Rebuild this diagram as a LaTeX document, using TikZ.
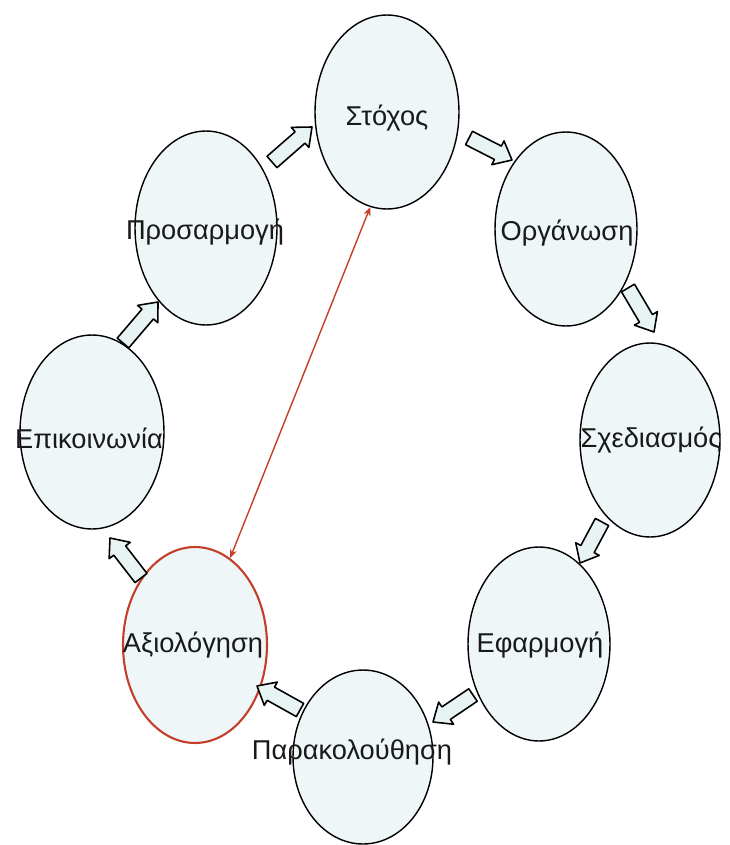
\documentclass[tikz,border=0pt]{standalone}
\usepackage{fontspec}
\setmainfont{Liberation Sans}
\usetikzlibrary{calc,arrows.meta,shapes.geometric}
\definecolor{ellfill}{RGB}{238,246,247}
\definecolor{arrfill}{RGB}{232,244,244}
\definecolor{redc}{RGB}{196,62,42}
\tikzset{
  ell/.style={draw=black, line width=0.8pt, fill=ellfill, ellipse, inner sep=0pt},
  lbl/.style={font=\fontsize{15.5}{18}\selectfont, text=black!90, inner sep=0pt},
  barr/.style={draw=black, line width=0.9pt, fill=arrfill, line join=round},
  redline/.style={draw=redc, line width=0.8pt, {Stealth[length=5pt,width=4pt]}-{Stealth[length=5pt,width=4pt]}}
}
% block arrow from coordinate #1 (tail) to coordinate #2 (tip)
\newcommand{\blockarr}[2]{%
  \draw[barr] let \p1=($(#2)-(#1)$), \n1={atan2(\y1,\x1)}, \n2={veclen(\x1,\y1)} in
    ($(#1)+(\n1+90:4.3pt)$)
    -- ($(#1)+(\n1:\n2-9pt)+(\n1+90:4.3pt)$)
    -- ($(#1)+(\n1:\n2-9pt)+(\n1+90:7.6pt)$)
    -- (#2)
    -- ($(#1)+(\n1:\n2-9pt)+(\n1-90:7.6pt)$)
    -- ($(#1)+(\n1:\n2-9pt)+(\n1-90:4.3pt)$)
    -- ($(#1)+(\n1-90:4.3pt)$) -- cycle;%
}
\begin{document}
\begin{tikzpicture}[x=0.02cm, y=-0.02cm]
\useasboundingbox (0,0) rectangle (730,845);
% ellipses
\node[ell, minimum width=2.88cm, minimum height=3.88cm] (stochos) at (387,112) {};
\node[ell, minimum width=2.84cm, minimum height=3.88cm] (organosi) at (566,229) {};
\node[ell, minimum width=2.80cm, minimum height=3.88cm] (sxediasmos) at (650,440) {};
\node[ell, minimum width=2.84cm, minimum height=3.88cm] (efarmogi) at (539,644) {};
\node[ell, minimum width=2.80cm, minimum height=3.48cm] (parakolouthisi) at (363,757) {};
\node[ell, draw=redc, line width=1.2pt, minimum width=2.88cm, minimum height=3.92cm] (axiologisi) at (195,645) {};
\node[ell, minimum width=2.88cm, minimum height=3.88cm] (epikoinonia) at (92,432) {};
\node[ell, minimum width=2.84cm, minimum height=3.88cm] (prosarmogi) at (206,228) {};
% labels
\node[lbl] (t1) at (387,118) {Στόχος};
\node[lbl] (t2) at (567,233) {Οργάνωση};
\node[lbl] (t3) at (651,440) {Σχεδιασμός};
\node[lbl] (t4) at (540,645) {Εφαρμογή};
\node[lbl] (t5) at (352,752) {Παρακολούθηση};
\node[lbl] (t6) at (193,645) {Αξιολόγηση};
\node[lbl] (t7) at (89,438) {Επικοινωνία};
\node[lbl] (t8) at (205,232) {Προσαρμογή};
% block arrow end points
\coordinate (a1s) at (272,162); \coordinate (a1e) at (312,127);
\coordinate (a2s) at (469,138); \coordinate (a2e) at (512,160);
\coordinate (a3s) at (628,288); \coordinate (a3e) at (654,332);
\coordinate (a4s) at (602,522); \coordinate (a4e) at (580,563);
\coordinate (a5s) at (473,695); \coordinate (a5e) at (433,722);
\coordinate (a6s) at (300,710); \coordinate (a6e) at (257,686);
\coordinate (a7s) at (141,578); \coordinate (a7e) at (110,538);
\coordinate (a8s) at (123,343); \coordinate (a8e) at (158,302);
\blockarr{a1s}{a1e}
\blockarr{a2s}{a2e}
\blockarr{a3s}{a3e}
\blockarr{a4s}{a4e}
\blockarr{a5s}{a5e}
\blockarr{a6s}{a6e}
\blockarr{a7s}{a7e}
\blockarr{a8s}{a8e}
% red connector
\draw[redline] (axiologisi.68) -- (stochos.-100);
\end{tikzpicture}
\end{document}
